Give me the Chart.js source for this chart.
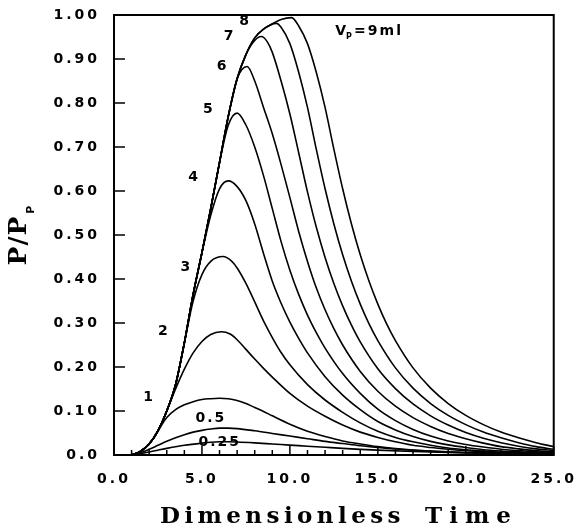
<!DOCTYPE html>
<html><head><meta charset="utf-8">
<script src="https://cdn.jsdelivr.net/npm/chart.js@4"></script>
<style>html,body{margin:0;padding:0;background:#fff;} #wrap{width:587px;height:528px;position:relative;}</style>
</head><body><div id="wrap"><canvas id="c"></canvas></div>
<script>
// shared rising front (envelope)
const envelopeT = [1,1.5,2,2.5,3,3.5,4,4.5,5,5.5,6,6.5,7,7.5,8,8.5,9,9.5];
const envelopeP = [0,0.008,0.025,0.055,0.10,0.16,0.255,0.365,0.46,0.56,0.665,0.77,0.855,0.91,0.948,0.968,0.98,0.99];

// curve names and where each leaves the envelope
const curveNames = ['0.25','0.5','1','2','3','4','5','6','7','8','9'];
const departAt   = [0, 0, 2.5, 3.0, 4.0, 5.0, 6.0, 7.0, 7.5, 8.5, 9.5];

const t025 = [1,1.5,2,2.5,3,4,5,5.5,6,6.5,7,8,9,10,11,12,13,14,15,17,19,21,23,25];
const p025 = [0,0.003,0.007,0.011,0.015,0.022,0.027,0.029,0.030,0.030,0.0295,0.0275,0.025,0.0225,0.02,0.0175,0.015,0.0128,0.011,0.008,0.0058,0.0042,0.003,0.0022];
const t05 = [1,1.5,2,2.5,3,3.5,4,4.5,5,5.5,6,6.5,7,8,9,10,11,12,13,14,15,16,17,18,20,22,25];
const p05 = [0,0.005,0.013,0.022,0.031,0.039,0.046,0.052,0.056,0.059,0.061,0.061,0.06,0.055,0.049,0.043,0.037,0.031,0.026,0.021,0.017,0.0135,0.011,0.0088,0.0057,0.0037,0.002];
const t1 = [3,3.5,4,4.5,5,5.5,6,6.5,7,7.5,8,8.5,9,10,11,12,13,14,15,16,17,18,19,20,22,25];
const p1 = [0.085,0.103,0.114,0.121,0.126,0.128,0.129,0.128,0.124,0.117,0.108,0.099,0.089,0.07,0.054,0.042,0.032,0.025,0.019,0.0145,0.011,0.0085,0.0065,0.005,0.003,0.0015];
const t2 = [3.5,4,4.5,5,5.5,6.1,6.6,7,7.5,8,8.5,9,10,11,12,13,14,15,16,17,18,19,20,21,22,23,24,25];
const p2 = [0.15,0.195,0.232,0.258,0.274,0.28,0.275,0.262,0.24,0.218,0.197,0.177,0.14,0.111,0.088,0.068,0.052,0.04,0.03,0.022,0.017,0.013,0.0095,0.007,0.0052,0.0038,0.0028,0.002];
const t3 = [4.5,5,5.5,6.2,6.7,7,7.5,8,8.5,9,9.5,10,11,12,13,14,15,16,17,18,19,20,21,22,23,24,25];
const p3 = [0.35,0.41,0.44,0.451,0.44,0.425,0.39,0.348,0.305,0.267,0.233,0.205,0.16,0.125,0.097,0.073,0.054,0.04,0.03,0.022,0.016,0.012,0.009,0.0065,0.005,0.0035,0.0025];
const t4 = [5.5,6,6.5,7,7.5,8,8.5,9,9.5,10,10.5,11,12,13,14,15,16,17,18,19,20,21,22,23,24,25];
const p4 = [0.545,0.605,0.623,0.61,0.578,0.525,0.458,0.395,0.345,0.302,0.265,0.232,0.178,0.136,0.103,0.076,0.057,0.042,0.031,0.023,0.017,0.012,0.009,0.007,0.005,0.004];
const t5 = [6.5,7,7.5,8,8.5,9,9.5,10,10.5,11,11.5,12,13,14,15,16,17,18,19,20,21,22,23,24,25];
const p5 = [0.75,0.777,0.75,0.70,0.635,0.56,0.485,0.42,0.365,0.318,0.278,0.243,0.185,0.14,0.104,0.078,0.058,0.043,0.032,0.024,0.018,0.013,0.01,0.007,0.005];
const t6 = [7.57,8,8.5,9,9.5,10,10.5,11,11.5,12,12.5,13,14,15,16,17,18,19,20,21,22,23,24,25];
const p6 = [0.883,0.85,0.79,0.73,0.66,0.585,0.508,0.44,0.38,0.33,0.287,0.25,0.19,0.145,0.111,0.085,0.065,0.049,0.037,0.027,0.019,0.014,0.01,0.007];
const t7 = [8,8.37,8.7,9,9.5,10,10.5,11,11.5,12,12.5,13,13.5,14,15,16,17,18,19,20,21,22,23,24,25];
const p7 = [0.942,0.951,0.94,0.915,0.85,0.775,0.687,0.598,0.518,0.449,0.39,0.339,0.295,0.257,0.196,0.151,0.116,0.089,0.068,0.051,0.038,0.028,0.02,0.014,0.01];
const t8 = [9.24,9.5,10,10.5,11,11.5,12,12.5,13,13.5,14,14.5,15,16,17,18,19,20,21,22,23,24,25];
const p8 = [0.981,0.972,0.935,0.87,0.79,0.695,0.605,0.525,0.455,0.395,0.343,0.298,0.26,0.198,0.152,0.117,0.09,0.069,0.052,0.039,0.028,0.019,0.013];
const t9 = [10.1,10.5,11,11.5,12,12.5,13,13.5,14,14.5,15,15.5,16,17,18,19,20,21,22,23,24,25];
const p9 = [0.994,0.975,0.935,0.87,0.79,0.695,0.605,0.525,0.455,0.395,0.343,0.298,0.26,0.198,0.152,0.117,0.09,0.069,0.052,0.039,0.028,0.019];

const tailsT = [t025,t05,t1,t2,t3,t4,t5,t6,t7,t8,t9];
const tailsP = [p025,p05,p1,p2,p3,p4,p5,p6,p7,p8,p9];

// curve label positions (data units)
const labelText = ['0.25','0.5','1','2','3','4','5','6','7','8'];
const labelX = [6.01,5.51,2.0,2.84,4.12,4.56,5.4,6.18,6.57,7.46];
const labelY = [0.029,0.084,0.132,0.280,0.427,0.63,0.786,0.884,0.952,0.986];

// tick labels
const xTickValues = [0,5,10,15,20,25];
const yTickValues = [0,0.1,0.2,0.3,0.4,0.5,0.6,0.7,0.8,0.9,1.0];

const datasets = curveNames.map((name,i)=>{
  const pts = [];
  envelopeT.forEach((t,j)=>{ if (departAt[i] > 0 && t <= departAt[i]) pts.push({x:t, y:envelopeP[j]}); });
  tailsT[i].forEach((t,j)=>pts.push({x:t, y:tailsP[i][j]}));
  return {label:name, data:pts, borderColor:'#000', borderWidth:1.6, pointRadius:0, fill:false,
          cubicInterpolationMode:'monotone'};
});

const TICKFONT = {family:'"DejaVu Sans"', size:14, weight:'bold'};

const decor = {
  id:'decor',
  beforeDraw(chart){ chart.ctx.letterSpacing = '3px'; },
  afterDraw(chart){
    const {ctx, chartArea:a, scales:{x,y}} = chart;
    ctx.save();
    ctx.strokeStyle='#000'; ctx.lineWidth=2;
    ctx.strokeRect(a.left, a.top, a.right-a.left, a.bottom-a.top);
    ctx.lineWidth=1.5;
    ctx.beginPath();
    for (let v=0; v<=25; v++){
      const px=x.getPixelForValue(v); const L = v%5===0?9:5;
      ctx.moveTo(px,a.bottom); ctx.lineTo(px,a.bottom-L);
    }
    yTickValues.forEach(v=>{ const py=y.getPixelForValue(v); ctx.moveTo(a.left,py); ctx.lineTo(a.left+11,py); });
    ctx.stroke();

    // curve labels
    ctx.fillStyle='#000';
    ctx.font='bold 14px "DejaVu Sans"';
    ctx.letterSpacing='2px';
    ctx.textAlign='center'; ctx.textBaseline='middle';
    labelText.forEach((s,i)=>ctx.fillText(s, x.getPixelForValue(labelX[i]), y.getPixelForValue(labelY[i])));

    // V_P = 9ml annotation
    ctx.textAlign='left'; ctx.textBaseline='alphabetic';
    const vx = x.getPixelForValue(12.58), vy = y.getPixelForValue(0.955);
    ctx.fillText('V', vx, vy);
    const wV = ctx.measureText('V').width;
    ctx.font='bold 8px "DejaVu Sans"'; ctx.letterSpacing='0px';
    ctx.fillText('P', vx+wV-2, vy+4);
    ctx.font='bold 14px "DejaVu Sans"'; ctx.letterSpacing='2px';
    ctx.fillText('=9ml', vx+wV+6, vy);

    // x axis title
    ctx.font='bold 23px "DejaVu Serif"';
    ctx.letterSpacing='0px';
    const w1 = ctx.measureText('Dimensionless').width;
    const w2 = ctx.measureText('Time').width;
    const ls1 = (245 - w1)/13, ls2 = (93 - w2)/4;
    ctx.letterSpacing = ls1.toFixed(2)+'px';
    ctx.fillText('Dimensionless', 160, 523);
    ctx.letterSpacing = ls2.toFixed(2)+'px';
    ctx.fillText('Time', 425, 523);

    // y axis title (rotated)
    ctx.letterSpacing='1px';
    ctx.translate(26, (a.top+a.bottom)/2);
    ctx.rotate(-Math.PI/2);
    ctx.font='bold 25px "DejaVu Serif"';
    const mainW = ctx.measureText('P/P').width;
    ctx.font='bold 11px "DejaVu Sans"';
    const subW = ctx.measureText('P').width;
    const total = mainW + subW + 2;
    ctx.font='bold 25px "DejaVu Serif"';
    ctx.fillText('P/P', -total/2, 0);
    ctx.font='bold 11px "DejaVu Sans"';
    ctx.fillText('P', -total/2 + mainW + 2, 8);
    ctx.restore();
    ctx.letterSpacing='0px';
  }
};

new Chart(document.getElementById('c'), {
  type:'line',
  data:{datasets},
  plugins:[decor],
  options:{
    responsive:true, maintainAspectRatio:false, animation:false,
    layout:{padding:{top:15,right:24,left:0,bottom:0}},
    plugins:{legend:{display:false}, tooltip:{enabled:false}},
    scales:{
      x:{type:'linear', min:0, max:25,
         afterBuildTicks:(s)=>{ s.ticks = xTickValues.map(v=>({value:v})); },
         afterFit:(s)=>{ s.height = 73; },
         ticks:{callback:(v)=>Number(v).toFixed(1), font:TICKFONT, color:'#000', padding:16, maxRotation:0, autoSkip:false},
         grid:{display:true, drawOnChartArea:false, drawTicks:false},
         border:{display:true, color:'#000', width:2}},
      y:{type:'linear', min:0, max:1,
         afterBuildTicks:(s)=>{ s.ticks = yTickValues.map(v=>({value:v})); },
         afterFit:(s)=>{ s.width = 114; s.paddingTop = 0; s.paddingBottom = 0; },
         ticks:{callback:(v)=> v===0 ? '0.0' : Number(v).toFixed(2), font:TICKFONT, color:'#000', padding:14, autoSkip:false},
         grid:{display:true, drawOnChartArea:false, drawTicks:false},
         border:{display:true, color:'#000', width:2}}
    }
  }
});
</script></body></html>
